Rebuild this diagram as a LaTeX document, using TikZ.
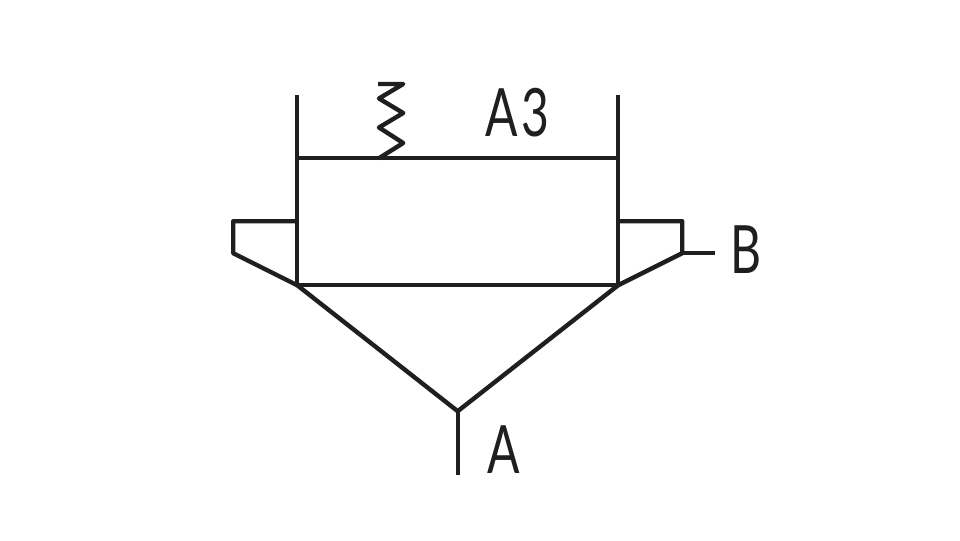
\documentclass[tikz,border=0pt]{standalone}
\usepackage{fontspec}
\setmainfont{Lato}
\tikzset{
  sym/.style={line width=3.3pt,draw=black!88,line cap=butt,line join=round},
  lbl/.style={inner sep=0pt,outer sep=0pt,text=black!88,font=\fontsize{50pt}{50pt}\selectfont,xscale=.72}
}
\begin{document}
\begin{tikzpicture}[x=0.75pt,y=-0.75pt]
\useasboundingbox[fill=white] (0,0) rectangle (960,540);
\coordinate (ltop) at (297.2,95);
\coordinate (rtop) at (618.2,95);
\coordinate (lmid) at (297.2,158.2);
\coordinate (rmid) at (618.2,158.2);
\coordinate (lbot) at (297.2,285.2);
\coordinate (rbot) at (618.2,285.2);
\coordinate (tip) at (457.7,411.2);
\coordinate (stem) at (457.7,475);
\draw[sym] (ltop) -- (lbot) -- (rbot) -- (rtop);
\draw[sym] (lmid) -- (rmid);
\draw[sym] (lbot) -- (tip) -- (rbot);
\draw[sym] (tip) -- (stem);
\draw[sym] (297.2,221.2) -- (233.2,221.2) -- (233.2,253.2) -- (lbot);
\draw[sym] (618.2,221.2) -- (682.2,221.2) -- (682.2,253.2) -- (rbot);
\draw[sym] (682.2,253.2) -- (714.5,253.2);
\draw[sym] (378,84) -- (403.2,84) -- (379,98.5) -- (403.2,113) -- (379,127.5) -- (403.2,143) -- (379,158.2);
\node[lbl] (a3) at (517.5,113) {A\kern3pt 3};
\node[lbl] (b) at (746.5,250) {B};
\node[lbl] (a) at (504,450) {A};
\end{tikzpicture}
\end{document}
